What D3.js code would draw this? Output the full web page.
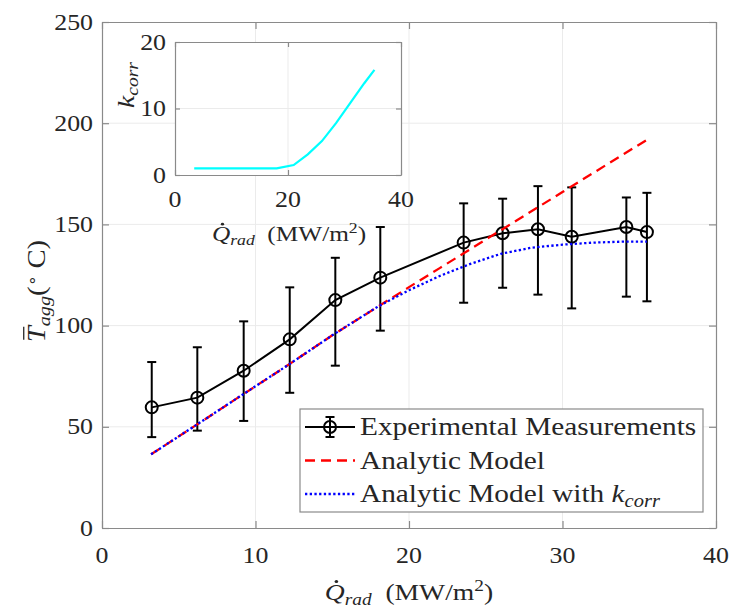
<!DOCTYPE html>
<html>
<head>
<meta charset="utf-8">
<script src="https://cdn.jsdelivr.net/npm/d3@7"></script>
<style>
  body { margin: 0; background: #fff; }
  text { font-family: "Liberation Serif", "Times New Roman", serif; fill: #262626; }
</style>
</head>
<body>
<svg id="chart" width="732" height="610"></svg>
<script>
// Measured mean aggregate temperature vs. radiative heat flux, with error bars
const qExp   = [3.24, 6.21, 9.23, 12.23, 15.2, 18.13, 23.56, 26.1, 28.4, 30.6, 34.16, 35.5];
const tExp   = [59.6, 64.4, 77.7, 93.2, 112.6, 123.7, 141.0, 145.6, 147.6, 143.9, 148.7, 146.2];
const tExpHi = [82.0, 89.3, 102.1, 118.9, 133.5, 148.7, 160.4, 162.7, 168.9, 168.3, 163.3, 165.6];
const tExpLo = [44.9, 48.1, 52.9, 66.8, 80.2, 97.5, 111.3, 118.7, 115.3, 108.5, 114.3, 112.0];

// Model predictions
const qModel    = [3.2, 6, 9, 12, 15, 18, 20, 22, 24, 26, 28, 30, 32, 34, 35.5];
const tAnalytic = [36.4, 50.2, 65.1, 79.9, 95.2, 109.5, 119.0, 128.4, 137.8, 147.2, 156.6, 166.0, 175.4, 184.8, 191.8];
const tCorr     = [36.4, 50.2, 65.1, 79.9, 95.2, 109.5, 117.5, 124.5, 130.5, 135.5, 138.5, 140.0, 141.0, 141.5, 141.5];

// Correction factor (inset)
const qK    = [3.4, 18, 21, 23.5, 26, 28.5, 31, 33.5, 35.3];
const kCorr = [1, 1, 1.5, 3.1, 5.1, 7.8, 10.8, 13.8, 15.8];

// Tick values
const xTicks = [0, 10, 20, 30, 40];
const yTicks = [0, 50, 100, 150, 200, 250];
const xTicksInset = [0, 20, 40];
const yTicksInset = [0, 10, 20];

const legendLabels = ["Experimental Measurements", "Analytic Model", "Analytic Model with "];

const svg = d3.select("#chart");
const SX = 1.15;           // horizontal glyph stretch
const FS = 22.5;           // tick label font size
const axisColor = "#8a8a8a";
const gridColor = "#ebebeb";

// ---------- main axes ----------
const M = { left: 102, right: 716, top: 22, bottom: 528 };
const x = d3.scaleLinear().domain([0, 40]).range([M.left, M.right]);
const y = d3.scaleLinear().domain([0, 250]).range([M.bottom, M.top]);

function stretchedText(g, px, py, str, anchor, size) {
  return g.append("text")
    .attr("transform", `translate(${px},${py}) scale(${SX},1)`)
    .attr("text-anchor", anchor)
    .style("font-size", size + "px")
    .text(str);
}

function drawGrid(g, xs, ys, xt, yt) {
  const [x0, x1] = xs.range();
  const [y0, y1] = ys.range();
  g.append("g").selectAll("line").data(xt.slice(1, -1)).join("line")
    .attr("x1", d => xs(d)).attr("x2", d => xs(d)).attr("y1", y0).attr("y2", y1)
    .attr("stroke", gridColor).attr("stroke-width", 1);
  g.append("g").selectAll("line").data(yt.slice(1, -1)).join("line")
    .attr("y1", d => ys(d)).attr("y2", d => ys(d)).attr("x1", x0).attr("x2", x1)
    .attr("stroke", gridColor).attr("stroke-width", 1);
}

function drawAxesBox(g, xs, ys, xt, yt, tickLen) {
  const [x0, x1] = xs.range();
  const [y0, y1] = ys.range();
  const axB = d3.axisBottom(xs).tickValues(xt).tickSizeInner(-tickLen).tickSizeOuter(0).tickFormat("");
  const axT = d3.axisTop(xs).tickValues(xt).tickSizeInner(-tickLen).tickSizeOuter(0).tickFormat("");
  const axL = d3.axisLeft(ys).tickValues(yt).tickSizeInner(-tickLen).tickSizeOuter(0).tickFormat("");
  const axR = d3.axisRight(ys).tickValues(yt).tickSizeInner(-tickLen).tickSizeOuter(0).tickFormat("");
  const styleAx = s => { s.selectAll("path,line").attr("stroke", axisColor).attr("stroke-width", 1.2); s.selectAll("text").remove(); };
  g.append("g").attr("transform", `translate(0,${y0})`).call(axB).call(styleAx);
  g.append("g").attr("transform", `translate(0,${y1})`).call(axT).call(styleAx);
  g.append("g").attr("transform", `translate(${x0},0)`).call(axL).call(styleAx);
  g.append("g").attr("transform", `translate(${x1},0)`).call(axR).call(styleAx);
}

const main = svg.append("g");
drawGrid(main, x, y, xTicks, yTicks);

// tick labels
xTicks.forEach(t => stretchedText(main, x(t), 563, String(t), "middle", FS));
yTicks.forEach(t => stretchedText(main, 93, y(t) + 7.5, String(t), "end", FS));

// ---------- data: main plot ----------
const lineExp = d3.line().x((d, i) => x(qExp[i])).y(d => y(d));
const lineModel = d3.line().x((d, i) => x(qModel[i])).y(d => y(d));

const exp = main.append("g");
exp.selectAll("line.err").data(tExp).join("line")
  .attr("x1", (d, i) => x(qExp[i])).attr("x2", (d, i) => x(qExp[i]))
  .attr("y1", (d, i) => y(tExpLo[i])).attr("y2", (d, i) => y(tExpHi[i]))
  .attr("stroke", "#000").attr("stroke-width", 2);
[tExpLo, tExpHi].forEach(arr => {
  exp.selectAll(null).data(arr).join("line")
    .attr("x1", (d, i) => x(qExp[i]) - 4.5).attr("x2", (d, i) => x(qExp[i]) + 4.5)
    .attr("y1", d => y(d)).attr("y2", d => y(d))
    .attr("stroke", "#000").attr("stroke-width", 2);
});
exp.append("path").datum(tExp).attr("d", lineExp)
  .attr("fill", "none").attr("stroke", "#000").attr("stroke-width", 2);
exp.selectAll("circle").data(tExp).join("circle")
  .attr("cx", (d, i) => x(qExp[i])).attr("cy", d => y(d)).attr("r", 6)
  .attr("fill", "none").attr("stroke", "#000").attr("stroke-width", 2);

main.append("path").datum(tAnalytic).attr("d", lineModel)
  .attr("fill", "none").attr("stroke", "#ff0000").attr("stroke-width", 2.3)
  .attr("stroke-dasharray", "10,6");
main.append("path").datum(tCorr).attr("d", lineModel)
  .attr("fill", "none").attr("stroke", "#0000ff").attr("stroke-width", 2.3)
  .attr("stroke-dasharray", "2.3,2.4");

drawAxesBox(main, x, y, xTicks, yTicks, 7);

// ---------- axis labels ----------
function fluxLabel(g, cx, baseline, size) {
  const t = g.append("text")
    .attr("transform", `translate(${cx},${baseline}) scale(${SX},1)`)
    .attr("text-anchor", "middle")
    .style("font-size", size + "px");
  t.append("tspan").style("font-style", "italic").text("Q");
  t.append("tspan").style("font-style", "italic").style("font-size", (size * 0.7) + "px").attr("dy", size * 0.2).text("rad");
  t.append("tspan").attr("dy", -size * 0.2).text("\u2002(MW/m");
  t.append("tspan").style("font-size", (size * 0.7) + "px").attr("dy", -size * 0.38).text("2");
  t.append("tspan").attr("dy", size * 0.38).text(")");
  const e = t.node().getExtentOfChar(0);
  g.append("circle")
    .attr("transform", `translate(${cx},${baseline}) scale(${SX},1)`)
    .attr("cx", e.x + e.width * 0.58).attr("cy", e.y + size * 0.12).attr("r", size * 0.065)
    .attr("fill", "#262626");
  return t;
}
fluxLabel(main, 409, 600, 24);

// y label
const yl = main.append("g").attr("transform", `translate(45,291) rotate(-90) scale(${SX},1)`);
const ylt = yl.append("text").attr("text-anchor", "middle").style("font-size", "25px");
ylt.append("tspan").style("font-style", "italic").text("T");
ylt.append("tspan").style("font-style", "italic").style("font-size", "17.5px").attr("dy", 5).text("agg");
ylt.append("tspan").attr("dy", -5).text("(");
ylt.append("tspan").style("font-size", "15px").attr("dy", -8).text("\u2218");
ylt.append("tspan").attr("dy", 8).text(" C)");
{
  const e = ylt.node().getExtentOfChar(0);
  yl.append("line").attr("x1", e.x + 2).attr("x2", e.x + e.width - 0.5)
    .attr("y1", e.y + 1).attr("y2", e.y + 1)
    .attr("stroke", "#262626").attr("stroke-width", 1.3);
}

// ---------- legend ----------
const lg = main.append("g");
lg.append("rect").attr("x", 300).attr("y", 409).attr("width", 403).attr("height", 103)
  .attr("fill", "#fff").attr("stroke", axisColor).attr("stroke-width", 1.2);
const rowY = [427, 460.5, 494];
const sx0 = 305, sx1 = 355, sxm = 330;
lg.append("line").attr("x1", sx0).attr("x2", sx1).attr("y1", rowY[0]).attr("y2", rowY[0]).attr("stroke", "#000").attr("stroke-width", 2);
lg.append("line").attr("x1", sxm).attr("x2", sxm).attr("y1", rowY[0] - 10).attr("y2", rowY[0] + 10).attr("stroke", "#000").attr("stroke-width", 2);
[-10, 10].forEach(o => lg.append("line").attr("x1", sxm - 4.5).attr("x2", sxm + 4.5).attr("y1", rowY[0] + o).attr("y2", rowY[0] + o).attr("stroke", "#000").attr("stroke-width", 2));
lg.append("circle").attr("cx", sxm).attr("cy", rowY[0]).attr("r", 6).attr("fill", "none").attr("stroke", "#000").attr("stroke-width", 2);
lg.append("line").attr("x1", sx0).attr("x2", sx1).attr("y1", rowY[1]).attr("y2", rowY[1]).attr("stroke", "#ff0000").attr("stroke-width", 2.3).attr("stroke-dasharray", "10,6");
lg.append("line").attr("x1", sx0).attr("x2", sx1).attr("y1", rowY[2]).attr("y2", rowY[2]).attr("stroke", "#0000ff").attr("stroke-width", 2.3).attr("stroke-dasharray", "2.3,2.4");
const LFS = 25.5;
legendLabels.forEach((s, i) => {
  const t = lg.append("text").attr("transform", `translate(360,${rowY[i] + 8}) scale(${SX},1)`).style("font-size", LFS + "px").text(s);
  if (i === 2) {
    t.append("tspan").style("font-style", "italic").text("k");
    t.append("tspan").style("font-style", "italic").style("font-size", (LFS * 0.7) + "px").attr("dy", 5).text("corr");
  }
});

// ---------- inset ----------
const I = { left: 175, right: 401, top: 42, bottom: 175 };
const xi = d3.scaleLinear().domain([0, 40]).range([I.left, I.right]);
const yi = d3.scaleLinear().domain([0, 20]).range([I.bottom, I.top]);
const inset = svg.append("g");
inset.append("rect").attr("x", I.left).attr("y", I.top).attr("width", I.right - I.left).attr("height", I.bottom - I.top).attr("fill", "#fff");
drawGrid(inset, xi, yi, xTicksInset, yTicksInset);
inset.append("path").datum(kCorr)
  .attr("d", d3.line().x((d, i) => xi(qK[i])).y(d => yi(d)))
  .attr("fill", "none").attr("stroke", "#00ffff").attr("stroke-width", 2.2);
drawAxesBox(inset, xi, yi, xTicksInset, yTicksInset, 5);
xTicksInset.forEach(t => stretchedText(inset, xi(t), 207, String(t), "middle", FS));
yTicksInset.forEach(t => stretchedText(inset, 166, yi(t) + 7.5, String(t), "end", FS));
fluxLabel(inset, 289, 241, 22);
const kl = inset.append("g").attr("transform", `translate(134,85) rotate(-90) scale(${SX},1)`);
const klt = kl.append("text").attr("text-anchor", "middle").style("font-size", "24px");
klt.append("tspan").style("font-style", "italic").text("k");
klt.append("tspan").style("font-style", "italic").style("font-size", "17px").attr("dy", 4).text("corr");
</script>
</body>
</html>
